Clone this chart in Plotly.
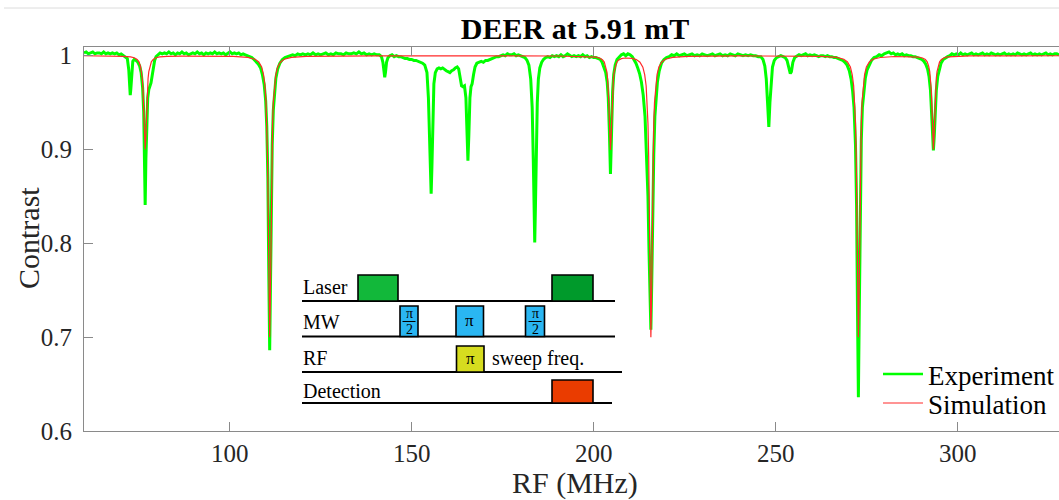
import plotly.graph_objects as go

# ---------------- data ----------------
# Experiment: (RF frequency in MHz, contrast)
experiment = [
    (60.0, 1.003), (60.6, 1.004), (61.2, 1.002), (61.8, 1.003), (62.4, 1.004), (63.0, 1.002),
    (63.6, 1.003), (64.2, 1.003), (64.8, 1.002), (65.4, 1.004), (66.0, 1.002), (66.6, 1.003),
    (67.2, 1.002), (67.8, 1.003), (68.4, 1.002), (69.0, 1.003), (69.6, 1.001), (70.2, 1.002),
    (70.8, 1.000), (71.4, 0.999), (71.9, 0.997), (72.3, 0.985), (72.55, 0.966), (72.7, 0.958),
    (72.85, 0.964), (73.1, 0.984), (73.4, 0.994), (73.8, 0.996), (74.3, 0.995), (74.8, 0.993),
    (75.3, 0.989), (75.7, 0.982), (76.1, 0.966), (76.4, 0.940), (76.6, 0.900), (76.8, 0.841),
    (77.0, 0.890), (77.2, 0.932), (77.5, 0.955), (77.8, 0.964), (78.1, 0.968), (78.4, 0.971),
    (78.7, 0.978), (79.0, 0.988), (79.4, 0.995), (79.8, 0.999), (80.3, 1.001), (80.9, 1.003),
    (81.5, 1.002), (82.1, 1.003), (82.7, 1.002), (83.3, 1.004), (83.9, 1.002), (84.5, 1.003),
    (85.1, 1.001), (85.7, 1.003), (86.3, 1.002), (86.9, 1.004), (87.5, 1.002), (88.1, 1.003),
    (88.7, 1.001), (89.3, 1.002), (89.9, 1.003), (90.5, 1.002), (91.1, 1.004), (91.7, 1.002),
    (92.3, 1.003), (92.9, 1.001), (93.5, 1.003), (94.1, 1.002), (94.7, 1.003), (95.3, 1.002),
    (95.9, 1.004), (96.5, 1.002), (97.1, 1.003), (97.7, 1.002), (98.3, 1.003), (98.9, 1.001),
    (99.5, 1.003), (100.1, 1.004), (100.7, 1.002), (101.3, 1.003), (101.9, 1.002), (102.5, 1.003),
    (103.1, 1.001), (103.7, 1.002), (104.3, 1.001), (104.9, 1.000), (105.5, 0.999), (106.1, 0.998),
    (106.7, 0.996), (107.3, 0.994), (107.9, 0.991), (108.5, 0.987), (109.0, 0.980), (109.5, 0.969),
    (109.9, 0.952), (110.2, 0.925), (110.5, 0.870), (110.75, 0.770), (111.0, 0.686), (111.2, 0.750),
    (111.45, 0.845), (111.7, 0.905), (112.0, 0.942), (112.3, 0.962), (112.7, 0.976), (113.2, 0.986),
    (113.8, 0.992), (114.5, 0.996), (115.2, 0.998), (115.9, 0.999), (116.6, 1.000), (117.3, 1.001),
    (118.0, 1.000), (118.7, 1.002), (119.4, 1.001), (120.1, 1.002), (120.8, 1.001), (121.5, 1.002),
    (122.2, 1.001), (122.9, 1.003), (123.6, 1.001), (124.3, 1.002), (125.0, 1.001), (125.7, 1.002),
    (126.4, 1.003), (127.1, 1.001), (127.8, 1.002), (128.5, 1.001), (129.2, 1.003), (129.9, 1.002),
    (130.6, 1.002), (131.3, 1.001), (132.0, 1.003), (132.7, 1.002), (133.4, 1.002), (134.1, 1.003),
    (134.8, 1.002), (135.5, 1.004), (136.2, 1.002), (136.9, 1.003), (137.6, 1.001), (138.3, 1.002),
    (139.0, 1.001), (139.7, 1.002), (140.4, 1.001), (141.1, 1.001), (141.7, 0.999), (142.1, 0.993),
    (142.4, 0.982), (142.6, 0.977), (142.8, 0.982), (143.1, 0.993), (143.5, 0.998), (144.0, 1.000),
    (144.6, 1.001), (145.2, 0.999), (145.8, 1.000), (146.4, 0.999), (147.0, 0.999), (147.6, 0.998),
    (148.2, 0.997), (148.8, 0.997), (149.4, 0.996), (150.0, 0.996), (150.6, 0.995), (151.2, 0.995),
    (151.8, 0.994), (152.4, 0.993), (153.0, 0.992), (153.6, 0.990), (154.2, 0.982), (154.6, 0.955),
    (154.9, 0.905), (155.15, 0.860), (155.35, 0.853), (155.55, 0.880), (155.8, 0.935), (156.1, 0.970),
    (156.5, 0.982), (157.0, 0.986), (157.5, 0.987), (158.0, 0.986), (158.5, 0.987), (159.0, 0.985),
    (159.5, 0.984), (160.0, 0.983), (160.5, 0.982), (161.0, 0.984), (161.5, 0.985), (162.0, 0.987),
    (162.5, 0.988), (162.9, 0.986), (163.3, 0.978), (163.7, 0.968), (164.1, 0.967), (164.5, 0.968),
    (164.9, 0.955), (165.2, 0.915), (165.45, 0.888), (165.7, 0.915), (166.0, 0.955), (166.3, 0.967),
    (166.6, 0.970), (167.0, 0.980), (167.4, 0.988), (167.9, 0.992), (168.5, 0.993), (169.1, 0.994),
    (169.7, 0.993), (170.3, 0.995), (170.9, 0.995), (171.5, 0.996), (172.1, 0.997), (172.7, 0.998),
    (173.3, 0.999), (173.9, 0.999), (174.5, 1.000), (175.1, 1.001), (175.7, 1.000), (176.3, 1.002),
    (176.9, 1.001), (177.5, 1.001), (178.1, 1.002), (178.7, 1.000), (179.3, 1.001), (179.9, 1.000),
    (180.5, 0.999), (181.1, 0.998), (181.7, 0.995), (182.2, 0.990), (182.7, 0.975), (183.1, 0.945),
    (183.4, 0.890), (183.6, 0.840), (183.8, 0.801), (184.0, 0.840), (184.25, 0.900), (184.5, 0.950),
    (184.8, 0.975), (185.2, 0.987), (185.7, 0.993), (186.2, 0.996), (186.8, 0.998), (187.4, 0.999),
    (188.0, 0.998), (188.6, 1.000), (189.2, 0.999), (189.8, 1.000), (190.4, 0.999), (191.0, 1.001),
    (191.6, 0.999), (192.2, 1.000), (192.8, 1.002), (193.4, 1.000), (194.0, 0.999), (194.6, 1.000),
    (195.2, 0.999), (195.8, 1.000), (196.4, 0.999), (197.0, 1.001), (197.6, 0.999), (198.2, 1.000),
    (198.8, 0.998), (199.4, 0.999), (200.0, 0.998), (200.6, 0.998), (201.2, 0.997), (201.8, 0.996),
    (202.3, 0.993), (202.8, 0.988), (203.3, 0.982), (203.7, 0.972), (204.0, 0.955), (204.3, 0.920),
    (204.45, 0.895), (204.6, 0.874), (204.75, 0.895), (204.95, 0.930), (205.2, 0.962), (205.5, 0.980),
    (205.9, 0.990), (206.4, 0.996), (207.0, 0.999), (207.6, 1.001), (208.2, 1.002), (208.8, 1.000),
    (209.4, 1.002), (210.0, 1.001), (210.6, 0.999), (211.1, 0.996), (211.6, 0.992), (212.1, 0.987),
    (212.6, 0.981), (213.1, 0.972), (213.6, 0.958), (214.1, 0.935), (214.5, 0.900), (214.9, 0.850),
    (215.2, 0.790), (215.45, 0.735), (215.7, 0.708), (215.95, 0.760), (216.2, 0.830), (216.5, 0.895),
    (216.8, 0.935), (217.1, 0.955), (217.5, 0.972), (218.0, 0.984), (218.6, 0.992), (219.3, 0.996),
    (220.0, 0.998), (220.7, 0.999), (221.4, 1.001), (222.1, 1.000), (222.8, 1.002), (223.5, 1.000),
    (224.2, 1.001), (224.9, 1.002), (225.6, 1.000), (226.3, 1.001), (227.0, 1.002), (227.7, 1.000),
    (228.4, 1.001), (229.1, 1.000), (229.8, 1.002), (230.5, 1.001), (231.2, 1.000), (231.9, 1.001),
    (232.6, 1.002), (233.3, 1.000), (234.0, 1.001), (234.7, 1.002), (235.4, 1.000), (236.1, 1.001),
    (236.8, 1.000), (237.5, 1.002), (238.2, 1.001), (238.9, 1.000), (239.6, 1.002), (240.3, 1.001),
    (241.0, 1.000), (241.7, 1.001), (242.4, 1.000), (243.1, 1.001), (243.8, 1.000), (244.5, 1.000),
    (245.2, 0.999), (245.9, 0.999), (246.5, 0.996), (247.0, 0.989), (247.4, 0.975), (247.75, 0.950),
    (248.1, 0.924), (248.4, 0.950), (248.75, 0.975), (249.1, 0.988), (249.6, 0.995), (250.2, 0.998),
    (250.8, 0.999), (251.4, 1.000), (252.0, 0.999), (252.6, 0.998), (253.1, 0.995), (253.6, 0.988),
    (254.0, 0.981), (254.3, 0.983), (254.7, 0.993), (255.2, 0.998), (255.8, 1.000), (256.4, 1.001),
    (257.0, 1.000), (257.6, 1.001), (258.2, 1.002), (258.8, 1.000), (259.4, 1.001), (260.0, 1.000),
    (260.6, 1.001), (261.2, 1.000), (261.8, 0.999), (262.4, 1.000), (263.0, 1.000), (263.6, 0.999),
    (264.2, 1.000), (264.8, 0.999), (265.4, 0.999), (266.0, 0.998), (266.6, 0.998), (267.2, 0.997),
    (267.8, 0.996), (268.4, 0.995), (269.0, 0.993), (269.6, 0.990), (270.2, 0.984), (270.7, 0.975),
    (271.1, 0.963), (271.5, 0.945), (271.9, 0.905), (272.2, 0.840), (272.45, 0.730), (272.7, 0.636),
    (272.95, 0.730), (273.2, 0.840), (273.5, 0.910), (273.8, 0.945), (274.2, 0.965), (274.6, 0.976),
    (275.1, 0.985), (275.7, 0.991), (276.3, 0.995), (277.0, 0.998), (277.7, 0.999), (278.4, 1.001),
    (279.1, 1.000), (279.8, 1.002), (280.5, 1.003), (281.1, 1.004), (281.7, 1.002), (282.3, 1.003),
    (282.9, 1.001), (283.5, 1.002), (284.1, 1.001), (284.7, 1.002), (285.3, 1.000), (285.9, 1.001),
    (286.5, 1.000), (287.1, 1.000), (287.7, 0.999), (288.3, 0.999), (288.9, 0.998), (289.5, 0.997),
    (290.1, 0.996), (290.7, 0.994), (291.2, 0.991), (291.7, 0.986), (292.1, 0.978), (292.5, 0.963),
    (292.8, 0.942), (293.05, 0.915), (293.3, 0.899), (293.55, 0.915), (293.8, 0.942), (294.1, 0.963),
    (294.5, 0.978), (294.9, 0.986), (295.4, 0.992), (296.0, 0.996), (296.6, 0.998), (297.2, 0.999),
    (297.8, 1.000), (298.4, 1.002), (299.0, 1.001), (299.6, 1.002), (300.2, 1.001), (300.8, 1.003),
    (301.4, 1.001), (302.0, 1.002), (302.6, 1.001), (303.2, 1.002), (303.8, 1.003), (304.4, 1.001),
    (305.0, 1.002), (305.6, 1.001), (306.2, 1.002), (306.8, 1.003), (307.4, 1.001), (308.0, 1.002),
    (308.6, 1.001), (309.2, 1.003), (309.8, 1.002), (310.4, 1.001), (311.0, 1.002), (311.6, 1.001),
    (312.2, 1.002), (312.8, 1.003), (313.4, 1.001), (314.0, 1.002), (314.6, 1.001), (315.2, 1.002),
    (315.8, 1.001), (316.4, 1.003), (317.0, 1.002), (317.6, 1.001), (318.2, 1.002), (318.8, 1.001),
    (319.4, 1.002), (320.0, 1.003), (320.6, 1.001), (321.2, 1.002), (321.8, 1.001), (322.4, 1.002),
    (323.0, 1.001), (323.6, 1.002), (324.2, 1.003), (324.8, 1.001), (325.4, 1.002), (326.0, 1.001),
    (326.6, 1.002), (327.2, 1.002), (327.8, 1.001),
]

# Simulation: (RF frequency in MHz, contrast)
simulation = [
    (60.0, 1.000), (66.8, 0.9998), (70.8, 0.9994), (72.8, 0.9988), (73.8, 0.9978), (74.6, 0.996),
    (75.1, 0.9935), (75.5, 0.989), (75.8, 0.983), (76.0, 0.976), (76.2, 0.964), (76.35, 0.950),
    (76.5, 0.931), (76.65, 0.910), (76.8, 0.900), (76.95, 0.910), (77.1, 0.931), (77.25, 0.950),
    (77.4, 0.964), (77.6, 0.976), (77.8, 0.983), (78.1, 0.989), (78.5, 0.9935), (79.0, 0.996),
    (79.8, 0.9978), (80.8, 0.9988), (82.8, 0.9994), (86.8, 0.9996), (95.0, 0.9996), (101.0, 0.9994),
    (105.0, 0.9983), (107.0, 0.9963), (108.0, 0.9934), (108.8, 0.988), (109.3, 0.980), (109.7, 0.968),
    (110.0, 0.950), (110.2, 0.928), (110.4, 0.892), (110.55, 0.850), (110.7, 0.792), (110.85, 0.730),
    (111.0, 0.700), (111.15, 0.730), (111.3, 0.792), (111.45, 0.850), (111.6, 0.892), (111.8, 0.928),
    (112.0, 0.950), (112.3, 0.968), (112.7, 0.980), (113.2, 0.988), (114.0, 0.9934), (115.0, 0.9963),
    (117.0, 0.9983), (121.0, 0.9994), (140.0, 0.9999), (190.0, 0.9997), (194.6, 0.9995), (198.6, 0.9992),
    (200.6, 0.9986), (201.6, 0.9975), (202.4, 0.9957), (202.9, 0.9932), (203.3, 0.9887), (203.6, 0.983),
    (203.8, 0.976), (204.0, 0.964), (204.15, 0.950), (204.3, 0.931), (204.45, 0.910), (204.6, 0.8995),
    (204.75, 0.910), (204.9, 0.931), (205.05, 0.950), (205.2, 0.964), (205.4, 0.9755), (205.6, 0.9825),
    (205.9, 0.9884), (206.3, 0.9928), (206.8, 0.9952), (207.6, 0.9969), (208.6, 0.9976), (209.7, 0.9975),
    (210.6, 0.9971), (211.7, 0.9959), (212.7, 0.9931), (213.5, 0.9878), (214.0, 0.9798), (214.4, 0.968),
    (214.7, 0.950), (214.9, 0.928), (215.1, 0.892), (215.25, 0.850), (215.4, 0.792), (215.55, 0.730),
    (215.7, 0.700), (215.85, 0.730), (216.0, 0.792), (216.15, 0.850), (216.3, 0.892), (216.5, 0.928),
    (216.7, 0.950), (217.0, 0.968), (217.4, 0.980), (217.9, 0.988), (218.7, 0.9934), (219.7, 0.9963),
    (221.7, 0.9983), (225.7, 0.9994), (240.0, 0.9998), (262.7, 0.9994), (266.7, 0.9983), (268.7, 0.9963),
    (269.7, 0.9934), (270.5, 0.988), (271.0, 0.980), (271.4, 0.968), (271.7, 0.950), (271.9, 0.928),
    (272.1, 0.892), (272.25, 0.850), (272.4, 0.792), (272.55, 0.730), (272.7, 0.700), (272.85, 0.730),
    (273.0, 0.792), (273.15, 0.850), (273.3, 0.892), (273.5, 0.928), (273.7, 0.950), (274.0, 0.968),
    (274.4, 0.980), (274.9, 0.988), (275.7, 0.9933), (276.7, 0.9962), (278.7, 0.9981), (282.7, 0.9992),
    (287.3, 0.9991), (289.3, 0.9986), (290.3, 0.9976), (291.1, 0.9959), (291.6, 0.9935), (292.0, 0.989),
    (292.3, 0.983), (292.5, 0.976), (292.7, 0.964), (292.85, 0.950), (293.0, 0.931), (293.15, 0.910),
    (293.3, 0.900), (293.45, 0.910), (293.6, 0.931), (293.75, 0.950), (293.9, 0.964), (294.1, 0.976),
    (294.3, 0.983), (294.6, 0.989), (295.0, 0.9935), (295.5, 0.996), (296.3, 0.9978), (297.3, 0.9988),
    (299.3, 0.9994), (303.3, 0.9998), (330.0, 1.000),
]

x_ticks = [100, 150, 200, 250, 300]
y_ticks = [0.6, 0.7, 0.8, 0.9, 1.0]
y_tick_labels = ["0.6", "0.7", "0.8", "0.9", "1"]
series_names = ["Experiment", "Simulation"]
title_text = "DEER at 5.91 mT"
x_title = "RF (MHz)"
y_title = "Contrast"

# inset (pulse-sequence) labels
row_labels = ["Laser", "MW", "RF", "Detection"]
sweep_label = "sweep freq."

# ---------------- layout geometry (pixels) ----------------
W, H = 1059, 500
L, R, T, B = 84, 1059, 47, 431  # plot area in pixels

def px(xp):
    return (xp - L) / (R - L)

def py(yp):
    return (B - yp) / (B - T)

FONT = "Liberation Serif, Times New Roman, serif"
GREEN = "#00ff00"
RED = "#ff2a2a"
AXIS_TXT = "#262626"

fig = go.Figure()
exp_f = [p[0] for p in experiment]
exp_c = [p[1] for p in experiment]
sim_f = [p[0] for p in simulation]
sim_c = [p[1] for p in simulation]

fig.add_trace(go.Scatter(x=exp_f, y=exp_c, mode="lines", name=series_names[0],
                         line=dict(color=GREEN, width=3), showlegend=False))
fig.add_trace(go.Scatter(x=sim_f, y=sim_c, mode="lines", name=series_names[1],
                         line=dict(color=RED, width=1.2), showlegend=False))

shapes = []
annotations = []

# top faint separator line
shapes.append(dict(type="line", xref="paper", yref="paper", x0=px(4), x1=px(1059),
                   y0=py(8), y1=py(8), line=dict(color="#dcdcdc", width=1)))

# ---- inset pulse sequence ----
def hline(x0, x1, y, w=2.2):
    shapes.append(dict(type="line", xref="paper", yref="paper", x0=px(x0), x1=px(x1),
                       y0=py(y), y1=py(y), line=dict(color="black", width=w)))

def box(x0, x1, y0, y1, color):
    shapes.append(dict(type="rect", xref="paper", yref="paper", x0=px(x0), x1=px(x1),
                       y0=py(y1), y1=py(y0), fillcolor=color,
                       line=dict(color="black", width=1.6)))

def text(x, y, s, size=20, anchor="left", color="black", angle=0):
    annotations.append(dict(xref="paper", yref="paper", x=px(x), y=py(y), text=s,
                            showarrow=False, xanchor=anchor, yanchor="middle",
                            textangle=angle,
                            font=dict(family=FONT, size=size, color=color)))

hline(302, 615, 301)
hline(302, 615, 336.5)
hline(302, 622, 372)
hline(302, 612, 403)

box(358, 398, 275, 301, "#12b83a")
box(552, 593, 275, 301, "#009a2b")
box(400, 418, 306, 336.5, "#2ab6f2")
box(456, 483.5, 306, 336.5, "#2ab6f2")
box(525.5, 544.5, 306, 336.5, "#2ab6f2")
box(456.5, 484, 346, 372, "#d6dc1f")
box(552, 593, 380, 403, "#ea3c00")

# fraction bars in pi/2 boxes
for cx in (409, 535):
    shapes.append(dict(type="line", xref="paper", yref="paper", x0=px(cx - 6.5), x1=px(cx + 6.5),
                       y0=py(321.5), y1=py(321.5), line=dict(color="black", width=1)))
    text(cx, 313.5, "π", size=14, anchor="center")
    text(cx, 329.5, "2", size=14, anchor="center")

text(469.7, 320.5, "π", size=17, anchor="center")
text(470.2, 358, "π", size=17, anchor="center")

text(301, 287, row_labels[0])
text(301, 322, row_labels[1])
text(301, 358, row_labels[2])
text(301, 391, row_labels[3])
text(490, 358, sweep_label)

# ---- legend (manual) ----
shapes.append(dict(type="line", xref="paper", yref="paper", x0=px(883), x1=px(923),
                   y0=py(374), y1=py(374), line=dict(color=GREEN, width=2.5)))
shapes.append(dict(type="line", xref="paper", yref="paper", x0=px(883), x1=px(923),
                   y0=py(403), y1=py(403), line=dict(color=RED, width=1.2)))
text(926, 376, series_names[0], size=27)
text(926, 405, series_names[1], size=27)

# ---- axis titles ----
text(575, 483, x_title, size=30, anchor="center", color=AXIS_TXT)
text(28, 238, y_title, size=30, anchor="center", color=AXIS_TXT, angle=-90)

fig.update_layout(
    width=W, height=H,
    margin=dict(l=L, r=W - R, t=T, b=H - B, pad=0),
    paper_bgcolor="white", plot_bgcolor="white",
    showlegend=False,
    title=dict(text="<b>" + title_text + "</b>", x=px(575), xref="paper", xanchor="center",
               y=1 - 28 / H, yref="container", yanchor="middle",
               font=dict(family=FONT, size=30, color="black")),
    xaxis=dict(range=[60, 327.8], tickvals=x_ticks, ticks="inside", ticklen=9,
               tickcolor="#8a8a8a", showline=True, linecolor="#8a8a8a", linewidth=1,
               mirror="ticks", showgrid=False, zeroline=False,
               tickfont=dict(family=FONT, size=25, color=AXIS_TXT)),
    yaxis=dict(range=[0.6, 1.0093], tickvals=y_ticks, ticktext=y_tick_labels, ticks="inside",
               ticklen=9, tickcolor="#8a8a8a", showline=True, linecolor="#8a8a8a", linewidth=1,
               showgrid=False, zeroline=False, ticklabelstandoff=6,
               tickfont=dict(family=FONT, size=25, color=AXIS_TXT)),
    shapes=shapes,
    annotations=annotations,
)

fig.write_html("out.html")
